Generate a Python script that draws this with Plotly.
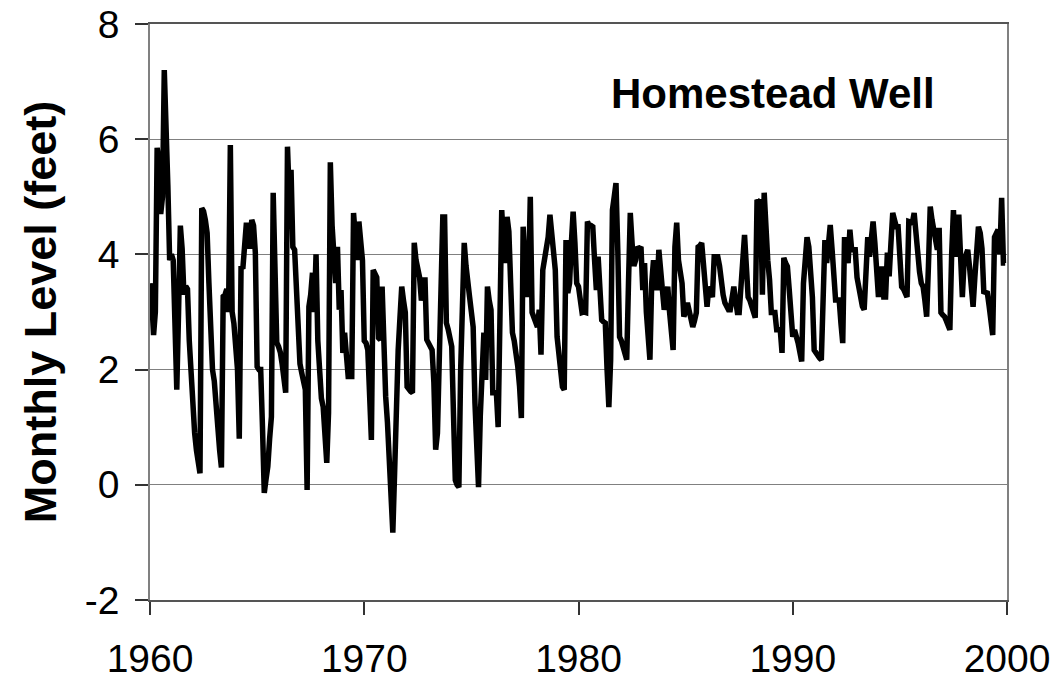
import plotly.graph_objects as go

# Monthly water level (feet), one list per decade
level_1960s = [
    3.5, 3.2, 2.6, 3.0, 5.85, 5.6, 4.7, 5.0, 7.2, 5.6, 5.2, 3.9,
    4.0, 3.9, 2.8, 1.65, 3.0, 4.5, 4.1, 3.3, 3.45, 3.4, 2.5, 1.8,
    1.13, 0.9, 0.6, 0.38, 0.2, 4.8, 4.75, 4.6, 4.37, 3.5, 2.3, 2.0,
    1.8, 1.5, 1.0, 0.6, 0.3, 3.27, 3.3, 3.4, 3.0, 5.9, 3.0, 2.8,
    2.4, 2.0, 0.8, 3.8, 3.75, 4.4, 4.55, 4.3, 4.1, 4.6, 4.5, 4.03,
    2.05, 2.0, 2.0, 1.0, -0.14, 0.1, 0.32, 0.8, 1.18, 5.07, 3.5, 2.47,
    2.4, 2.3, 2.1, 1.7, 1.6, 5.87, 5.0, 5.47, 4.13, 4.08, 3.2, 2.4,
    2.1, 1.94, 1.8, 1.65, -0.09, 3.09, 3.3, 3.68, 3.0, 4.0, 2.5, 1.77,
    1.5, 1.35, 0.9, 0.38, 1.25, 5.6, 4.5, 4.13, 3.5, 4.13, 3.04, 3.38,
    2.29, 2.64, 2.2, 1.88, 1.88, 1.88, 4.72, 4.2, 3.9, 4.57, 4.1, 3.9,
]
level_1970s = [
    2.5, 2.46, 2.34, 1.5, 0.78, 3.73, 3.65, 3.6, 2.55, 2.52, 3.44, 1.9,
    1.53, 1.08, 0.5, -0.2, -0.83, 0.2, 1.6, 2.34, 2.9, 3.44, 3.2, 2.99,
    1.7, 1.65, 1.62, 1.6, 4.2, 3.9, 3.7, 3.6, 3.2, 3.4, 3.6, 2.52,
    2.45, 2.4, 2.34, 1.77, 0.61, 0.9, 2.5, 4.0, 4.65, 4.65, 2.81, 2.7,
    2.5, 2.4, 1.2, 0.08, 0.0, -0.04, 2.0, 3.5, 4.2, 3.8, 3.4, 3.26,
    3.0, 2.74, 1.42, 0.7, -0.04, 1.2, 2.3, 2.64, 1.82, 3.44, 3.2, 3.04,
    1.6, 1.6, 1.6, 1.0, 2.5, 4.77, 4.2, 3.85, 4.65, 4.4, 3.5, 2.64,
    2.5, 2.3, 2.05, 1.7, 1.16, 4.48, 3.8, 3.26, 3.5, 5.0, 2.99, 2.9,
    2.8, 2.74, 3.04, 2.26, 3.73, 3.9, 4.05, 4.3, 4.69, 4.3, 3.9, 3.73,
    2.57, 2.2, 1.8, 1.7, 1.65, 4.25, 3.33, 3.5, 4.2, 4.74, 4.2, 3.5,
]
level_1980s = [
    3.44, 3.2, 2.99, 3.0, 2.99, 4.57, 4.5, 4.5, 4.48, 3.9, 3.38, 3.96,
    3.2, 2.86, 2.83, 2.81, 2.0, 1.35, 2.17, 4.77, 5.0, 5.24, 4.08, 2.57,
    2.5, 2.4, 2.3, 2.17, 3.5, 4.72, 4.2, 3.8, 3.9, 4.13, 4.1, 4.13,
    3.38, 3.85, 3.0, 2.5, 2.17, 3.5, 3.9, 3.6, 3.38, 4.08, 3.7, 3.38,
    3.04, 3.2, 3.44, 3.0, 2.6, 2.34, 4.13, 4.55, 3.9, 3.7, 3.5, 2.92,
    3.0, 3.16, 3.0, 2.85, 2.74, 2.85, 2.99, 4.13, 4.15, 4.2, 3.8, 3.5,
    3.09, 3.44, 3.3, 3.26, 3.96, 3.96, 3.96, 3.8, 3.5, 3.3, 3.16, 3.1,
    3.04, 3.04, 3.33, 3.44, 3.2, 2.99, 2.99, 3.5, 3.9, 4.34, 3.8, 3.26,
    3.2, 3.09, 3.0, 2.9, 4.95, 4.9, 4.95, 3.3, 5.07, 4.2, 3.9, 3.56,
    2.99, 2.99, 2.99, 2.69, 2.69, 2.69, 2.29, 3.94, 3.85, 3.79, 3.4, 3.09,
]
level_1990s = [
    2.57, 2.69, 2.6, 2.46, 2.3, 2.14, 3.5, 3.9, 4.3, 4.13, 3.7, 3.26,
    2.34, 2.28, 2.22, 2.2, 2.17, 3.3, 4.25, 3.85, 4.2, 4.51, 4.1, 3.68,
    3.21, 3.21, 3.21, 2.8, 2.46, 4.3, 4.0, 3.85, 4.43, 4.08, 4.08, 4.08,
    3.6, 3.4, 3.21, 3.1, 3.04, 4.0, 4.3, 3.96, 4.3, 4.57, 4.2, 3.85,
    3.26, 3.5, 3.79, 3.26, 3.26, 4.03, 3.62, 4.2, 4.72, 4.6, 4.48, 4.48,
    3.9, 3.44, 3.4, 3.33, 3.26, 4.57, 4.56, 4.55, 4.72, 4.3, 3.85, 3.7,
    3.5, 3.44, 3.2, 2.92, 3.8, 4.83, 4.6, 4.37, 4.2, 4.08, 4.46, 2.99,
    2.95, 2.92, 2.85, 2.75, 2.69, 4.0, 4.77, 3.96, 4.3, 4.69, 3.96, 3.26,
    3.9, 4.0, 4.08, 3.79, 3.4, 3.09, 3.6, 4.2, 4.48, 4.37, 4.1, 3.35,
    3.34, 3.33, 3.1, 2.85, 2.6, 4.3, 4.35, 4.43, 4.0, 4.98, 3.85, 3.85,
]

start_year = 1960
x_ticks = [1960, 1970, 1980, 1990, 2000]
y_ticks = [-2, 0, 2, 4, 6, 8]
title_text = "Homestead Well"
y_title = "Monthly Level (feet)"

levels = level_1960s + level_1970s + level_1980s + level_1990s
dates = [start_year + i / 12 for i in range(len(levels))]

FONT = "Liberation Sans, Arial, sans-serif"

fig = go.Figure()
fig.add_trace(go.Scatter(
    x=dates, y=levels, mode="lines",
    line=dict(color="black", width=5.5),
    showlegend=False, hoverinfo="x+y",
))

fig.update_layout(
    width=1060, height=684,
    margin=dict(l=142, r=61, t=16, b=92),
    paper_bgcolor="white", plot_bgcolor="white",
    font=dict(family=FONT, color="black"),
    xaxis=dict(
        range=[1960, 2000], tickvals=x_ticks, ticktext=[str(v) for v in x_ticks],
        showgrid=False, zeroline=False,
        showline=True, linecolor="#555555", linewidth=1.5, mirror=True,
        ticks="outside", ticklen=13, tickcolor="#333333", tickwidth=1.5,
        tickfont=dict(size=39, family=FONT, color="black"),
        ticklabelstandoff=10, ticklabeloverflow="allow",
        automargin=False,
    ),
    yaxis=dict(
        range=[-2, 8], tickvals=y_ticks, ticktext=[str(v) for v in y_ticks],
        showgrid=True, gridcolor="#808080", gridwidth=1.2,
        zeroline=False,
        showline=True, linecolor="#808080", linewidth=1.5, mirror=True,
        ticks="outside", ticklen=13, tickcolor="#333333", tickwidth=1.5,
        tickfont=dict(size=39, family=FONT, color="black"),
        ticklabelstandoff=8, ticklabeloverflow="allow",
        title=dict(text="<b>" + y_title + "</b>", font=dict(size=45, family=FONT, color="black"),
                   standoff=14),
        automargin=False,
    ),
    annotations=[dict(
        text="<b>" + title_text + "</b>", x=0.727, y=0.88, xref="paper", yref="paper",
        xanchor="center", yanchor="middle", showarrow=False,
        font=dict(size=42, family=FONT, color="black"),
    )],
)

fig.write_html("out.html")
